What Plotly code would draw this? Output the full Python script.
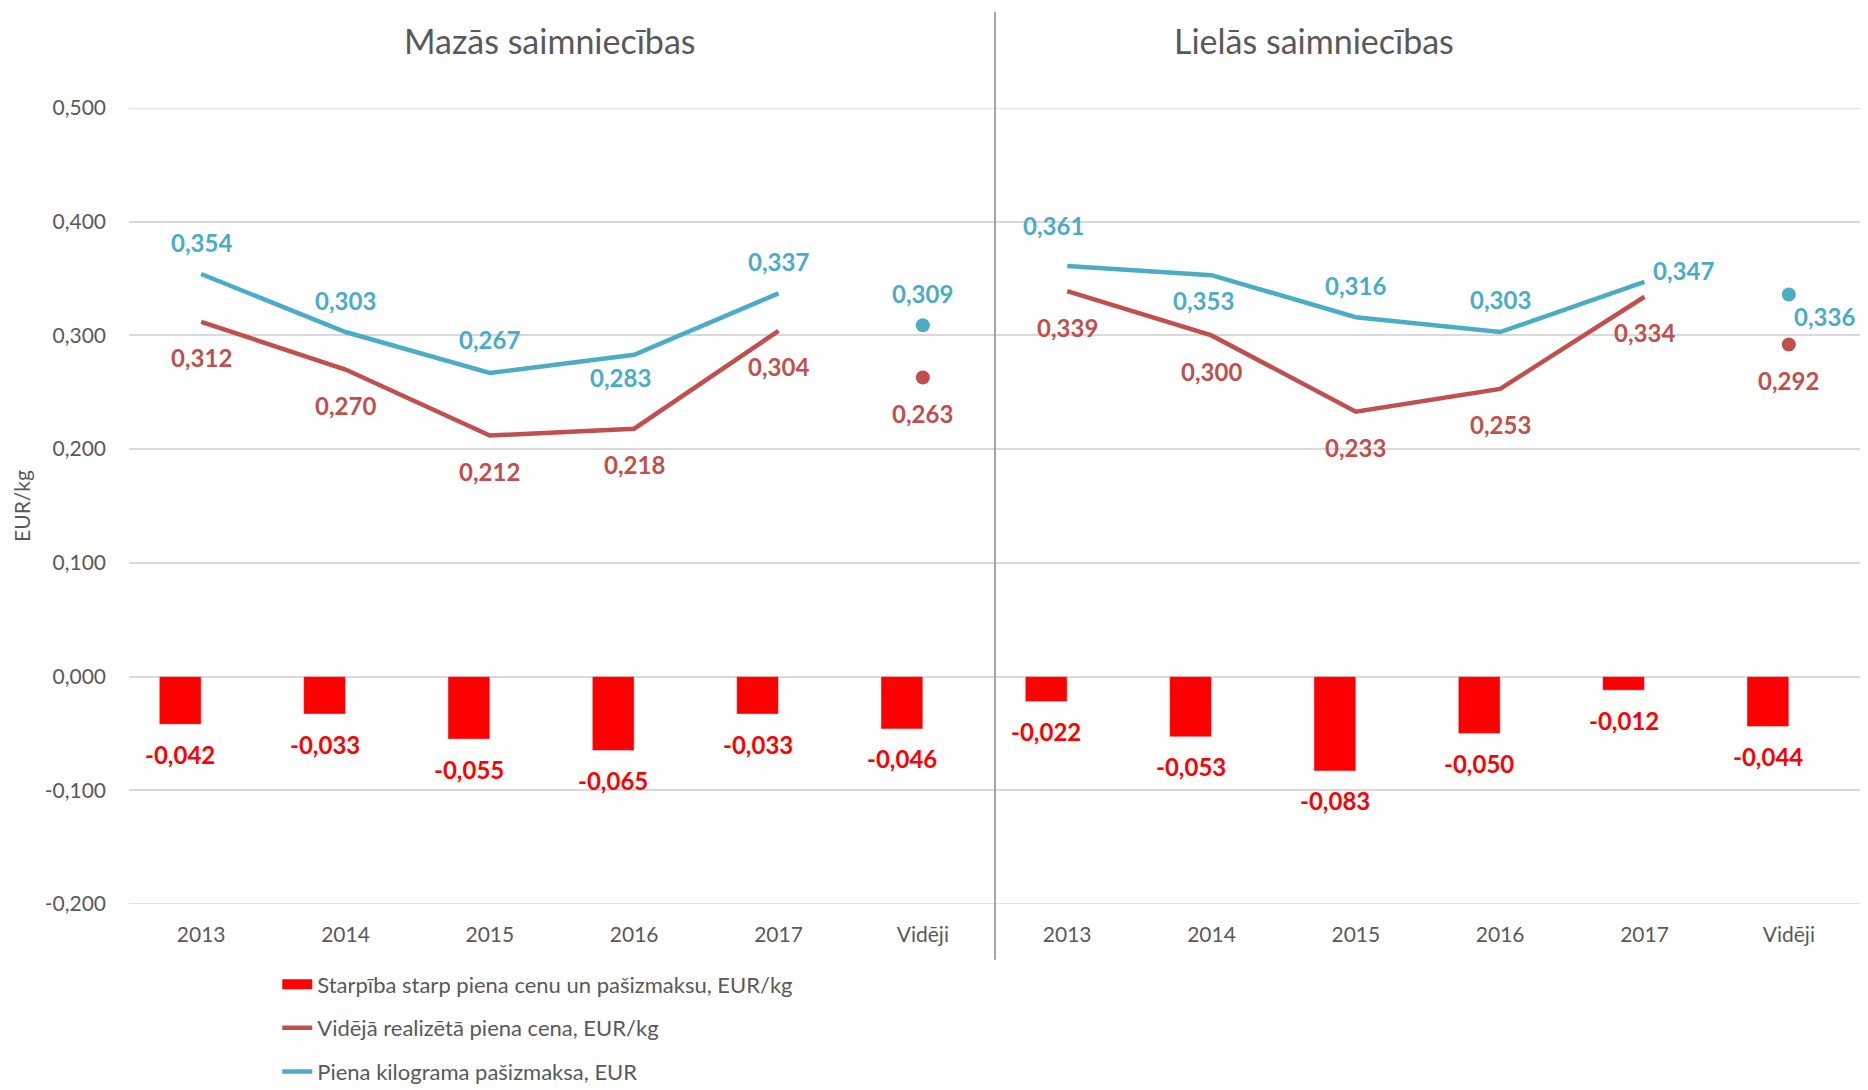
import plotly.graph_objects as go

# category labels (two groups of farms)
years = ["2013", "2014", "2015", "2016", "2017", "Vidēji"]
groups = ["Mazās saimniecības", "Lielās saimniecības"]

# small farms
maz_cost = [0.354, 0.303, 0.267, 0.283, 0.337]
maz_cost_avg = 0.309
maz_price = [0.312, 0.270, 0.212, 0.218, 0.304]
maz_price_avg = 0.263
maz_diff = [-0.042, -0.033, -0.055, -0.065, -0.033, -0.046]

# large farms
lie_cost = [0.361, 0.353, 0.316, 0.303, 0.347]
lie_cost_avg = 0.336
lie_price = [0.339, 0.300, 0.233, 0.253, 0.334]
lie_price_avg = 0.292
lie_diff = [-0.022, -0.053, -0.083, -0.050, -0.012, -0.044]

y_ticks = [0.5, 0.4, 0.3, 0.2, 0.1, 0.0, -0.1, -0.2]

names = ["Starpība starp piena cenu un pašizmaksu, EUR/kg",
         "Vidējā realizētā piena cena, EUR/kg",
         "Piena kilograma pašizmaksa, EUR"]

C_BAR = "#FF0000"
C_PRICE = "#C0504D"
C_COST = "#4BACC6"
C_TXT = "#595959"
C_GRID = "#D9D9D9"
FONT = "Lato, Carlito, 'Open Sans', sans-serif"


def fmt(v):
    return f"{v:.3f}".replace(".", ",")


xs = list(range(12))
cost_all = maz_cost + [None] + lie_cost + [None]
price_all = maz_price + [None] + lie_price + [None]
cost_avg = [maz_cost_avg, lie_cost_avg]
price_avg = [maz_price_avg, lie_price_avg]
diff_all = maz_diff + lie_diff
avg_x = [5, 11]

BW = 0.29

fig = go.Figure()
fig.add_trace(go.Bar(x=xs, y=diff_all, width=BW, offset=-BW, marker_color=C_BAR,
                     showlegend=False))
# legend entry for bars drawn as a wide flat rectangle like in the original
fig.add_trace(go.Scatter(x=[None], y=[None], mode="lines", line=dict(color=C_BAR, width=12),
                         name=names[0], legendgroup="a"))
fig.add_trace(go.Scatter(x=xs, y=price_all, mode="lines", line=dict(color=C_PRICE, width=4.5),
                         name=names[1], legendgroup="b"))
fig.add_trace(go.Scatter(x=xs, y=cost_all, mode="lines", line=dict(color=C_COST, width=4.5),
                         name=names[2], legendgroup="c"))
fig.add_trace(go.Scatter(x=avg_x, y=price_avg, mode="markers", marker=dict(color=C_PRICE, size=14),
                         showlegend=False))
fig.add_trace(go.Scatter(x=avg_x, y=cost_avg, mode="markers", marker=dict(color=C_COST, size=14),
                         showlegend=False))

# label offsets (dx, dy in px; dy positive = up)
cost_off = [(0, 32), (0, 32), (0, 33), (-14, -23), (0, 32), (0, 32),
            (-14, 41), (-8, -25), (0, 32), (0, 33), (39, 11), (36, -22)]
price_off = [(0, -36)] * 12

cost_pts = maz_cost + [maz_cost_avg] + lie_cost + [lie_cost_avg]
price_pts = maz_price + [maz_price_avg] + lie_price + [lie_price_avg]

for i in xs:
    fig.add_annotation(x=i, y=cost_pts[i], text=fmt(cost_pts[i]), showarrow=False,
                       xshift=cost_off[i][0], yshift=cost_off[i][1],
                       font=dict(family=FONT, size=24, color=C_COST, weight="bold"))
    fig.add_annotation(x=i, y=price_pts[i], text=fmt(price_pts[i]), showarrow=False,
                       xshift=price_off[i][0], yshift=price_off[i][1],
                       font=dict(family=FONT, size=24, color=C_PRICE, weight="bold"))
    fig.add_annotation(x=i - BW / 2, y=diff_all[i], text=fmt(diff_all[i]), showarrow=False,
                       yshift=-30,
                       font=dict(family=FONT, size=24, color=C_BAR, weight="bold"))

# group titles
for gx, g in zip([2.42, 7.71], groups):
    fig.add_annotation(x=gx, y=1.085, xref="x", yref="paper", text=g, showarrow=False,
                       yanchor="middle", xanchor="center",
                       font=dict(family=FONT, size=34, color=C_TXT))

# top and bottom gridlines (plotly drops grid lines sitting on the plot edge)
for gv in [y_ticks[0], y_ticks[-1]]:
    fig.add_shape(type="line", xref="paper", yref="y", x0=0, x1=1, y0=gv, y1=gv,
                  line=dict(color=C_GRID, width=1.5), layer="below")

# divider between groups
fig.add_shape(type="line", xref="x", yref="paper", x0=5.5, x1=5.5, y0=-0.07, y1=1.121,
              line=dict(color="#A6A6A6", width=2))

# page body has an 8px margin, so the figure is 8px smaller each way
fig.update_layout(
    width=1860, height=1082,
    margin=dict(l=121, r=7, t=100, b=186),
    plot_bgcolor="white", paper_bgcolor="white",
    font=dict(family=FONT, size=22, color=C_TXT),
    barmode="overlay",
    legend=dict(x=0.0856, y=0.117, yref="container", xanchor="left", yanchor="top",
                orientation="v", tracegroupgap=12, traceorder="grouped",
                font=dict(size=22, color=C_TXT)),
)
fig.update_xaxes(range=[-0.5, 11.5], tickvals=xs, ticktext=years * 2, showgrid=False,
                 zeroline=False, showline=False, ticklabelstandoff=16,
                 tickfont=dict(size=21, color=C_TXT), automargin=False)
fig.update_yaxes(range=[-0.2, 0.5], tickvals=y_ticks, ticktext=[fmt(v) for v in y_ticks],
                 showgrid=True, gridcolor=C_GRID, gridwidth=1.5, zeroline=False,
                 showline=False, ticklabelstandoff=22, tickfont=dict(size=21, color=C_TXT),
                 title=dict(text="EUR/kg", standoff=8, font=dict(size=21, color=C_TXT)),
                 automargin=False)

fig.write_html("out.html")
